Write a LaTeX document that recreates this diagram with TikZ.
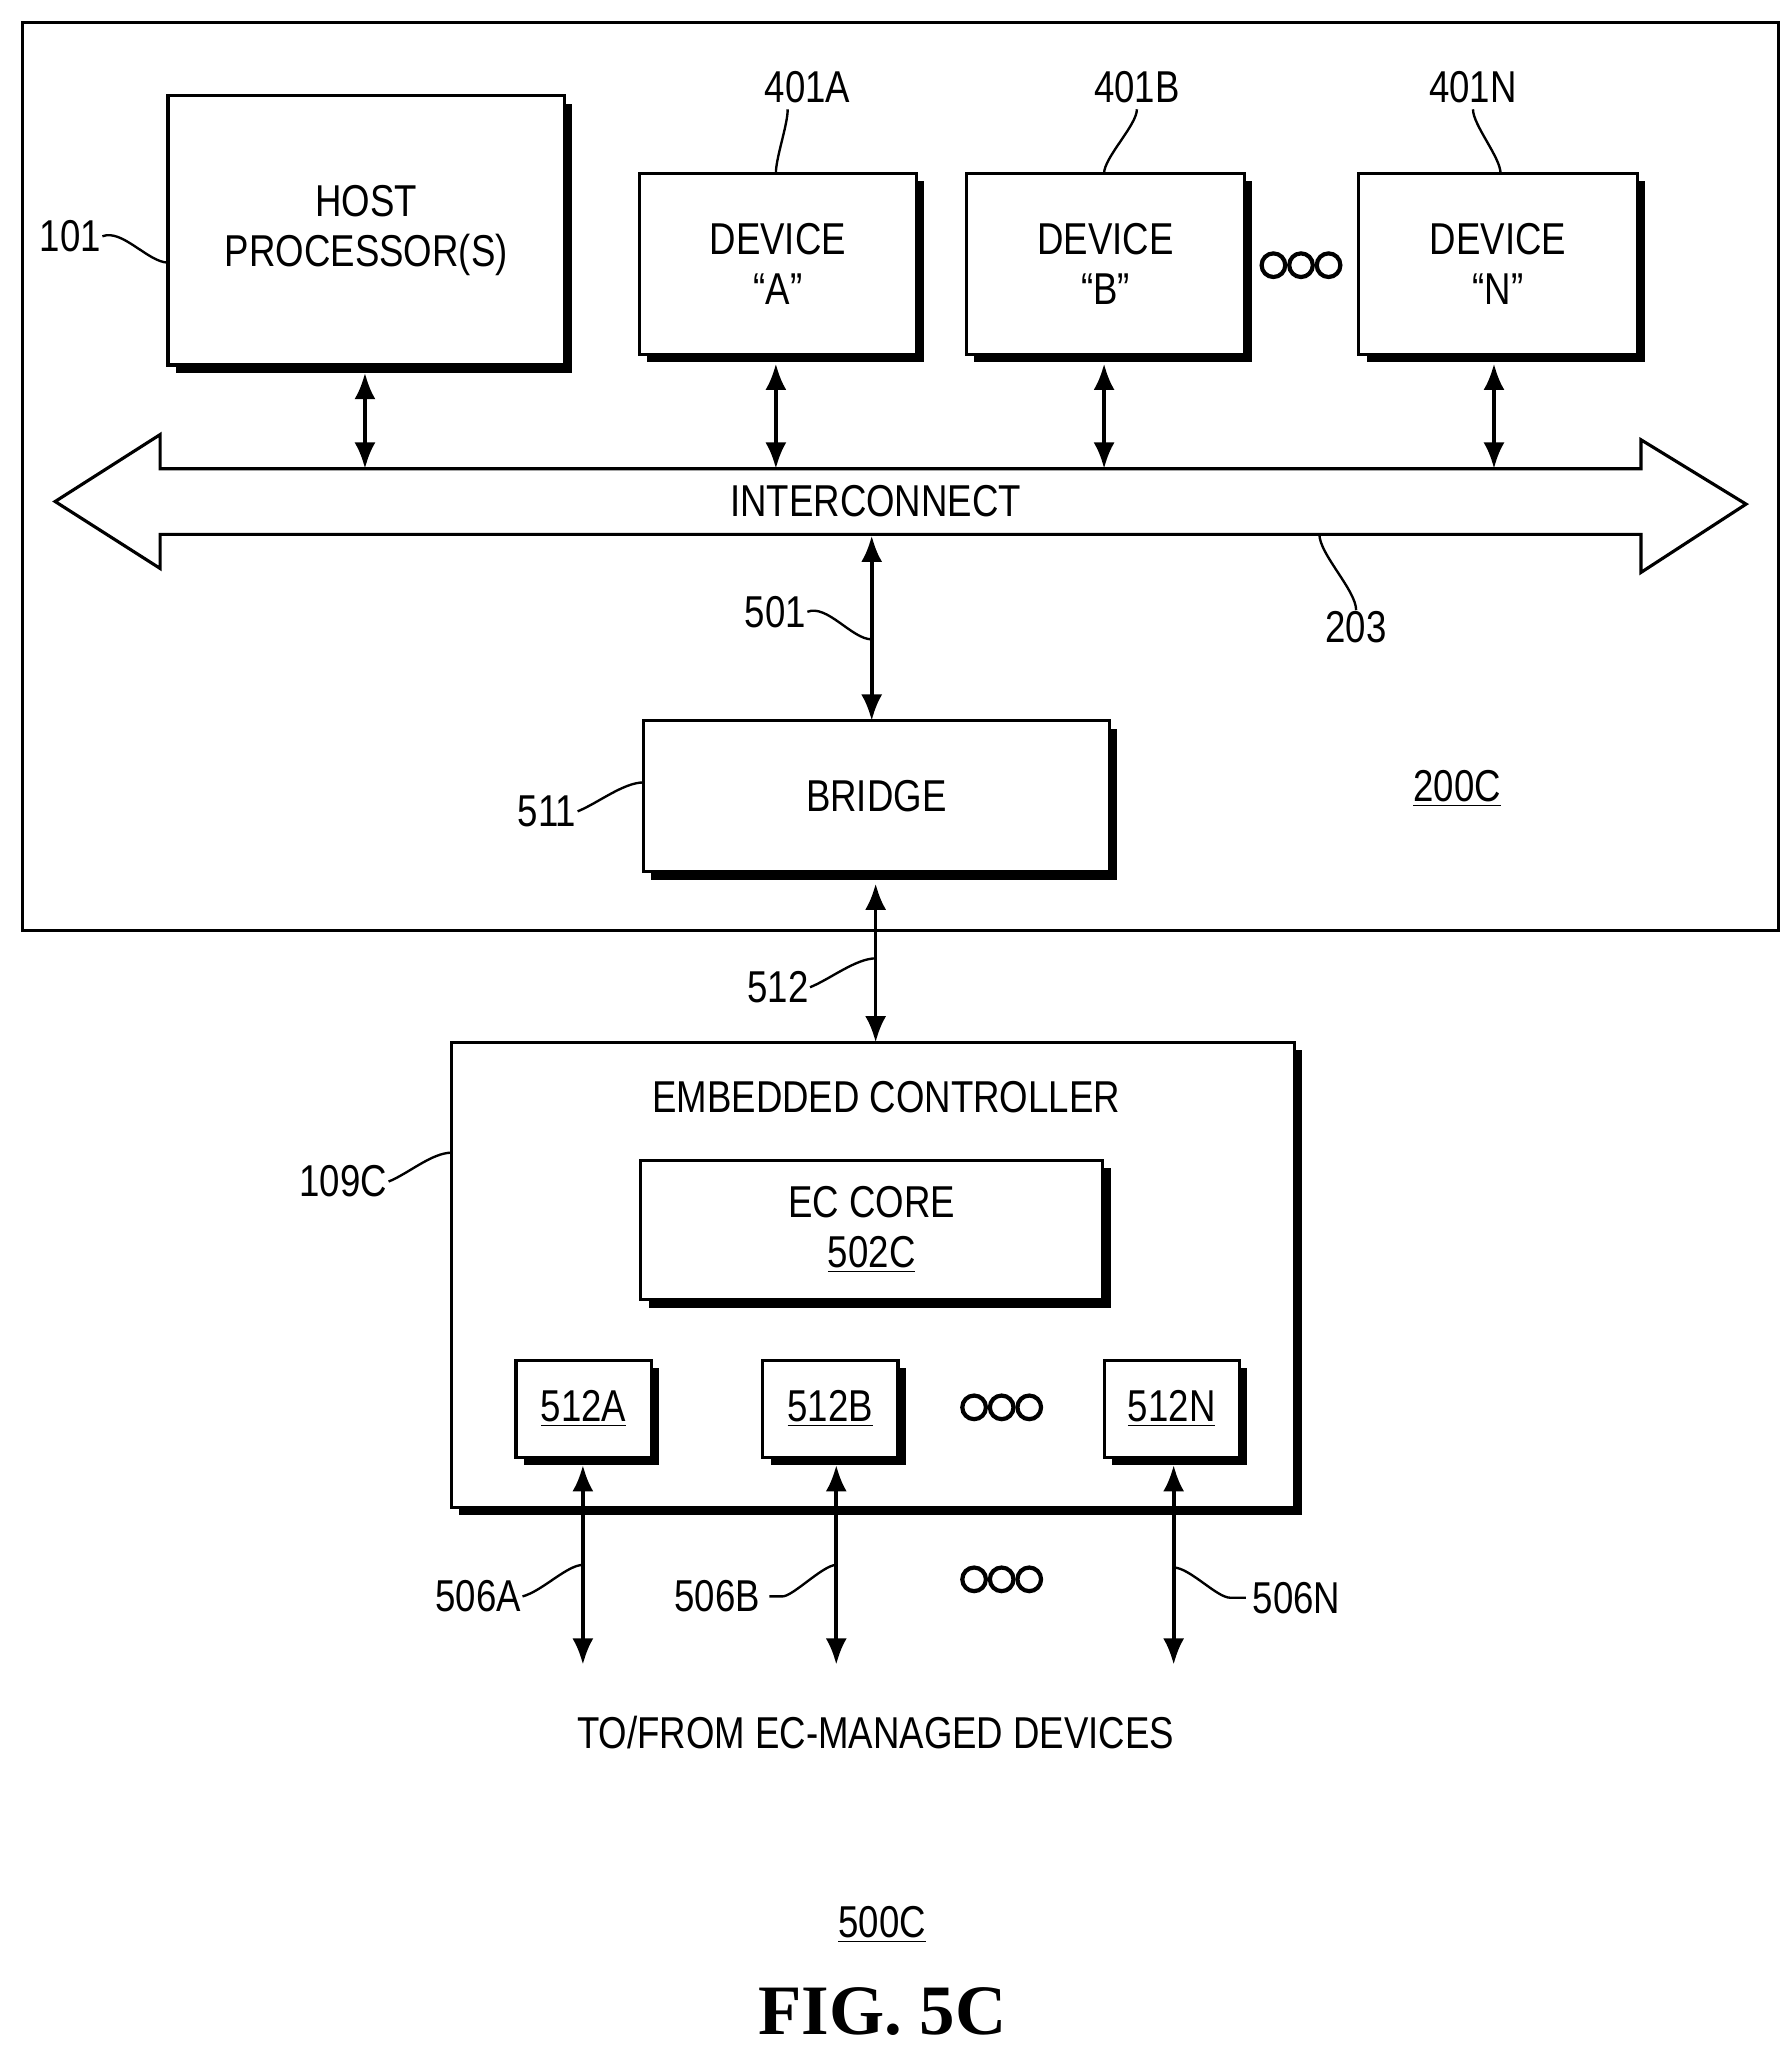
\documentclass[tikz,border=0pt]{standalone}
\usepackage{fontspec}
\setmainfont{Liberation Sans}[FakeStretch=0.82]
\newfontfamily\figfont{Liberation Serif}
\usetikzlibrary{arrows.meta}
\begin{document}
\begin{tikzpicture}[x=0.5pt,y=-0.5pt,line width=1.2pt,
  txt/.style={font=\fontsize{17}{19}\selectfont,align=center,inner sep=0},
  dots/.style={circle,draw,line width=1.6pt,minimum size=9pt,inner sep=0},
  dbl/.style={{Latex[length=10pt,width=8pt]}-{Latex[length=10pt,width=8pt]},line width=1.4pt},
  lead/.style={line width=0.9pt}]
\useasboundingbox (0,0) rectangle (1365,1560);
\newcommand{\blk}[5]{% name, x1,y1,x2,y2
  \fill (#2+6,#3+6) rectangle (#4+6,#5+6);
  \draw[fill=white] (#2,#3) rectangle (#4,#5);
  \coordinate (#1) at ({(#2+#4)/2},{(#3+#5)/2});}
\newcommand{\threedots}[2]{%
  \node[dots] at (#1-21,#2) {}; \node[dots] at (#1,#2) {}; \node[dots] at (#1+21,#2) {};}
% outer
\draw (17,17) rectangle (1355,709);
\blk{host}{128}{73}{430}{278}
\node[txt] (hostt) at (host) {HOST\\PROCESSOR(S)};
\blk{da}{487}{132}{698}{270}
\node[txt] (dat) at (da) {DEVICE\\``A''};
\blk{db}{736}{132}{948}{270}
\node[txt] (dbt) at (db) {DEVICE\\``B''};
\blk{dn}{1035}{132}{1247}{270}
\node[txt] (dnt) at (dn) {DEVICE\\``N''};
\threedots{991}{202}
% interconnect
\draw[fill=white] (42,382) -- (122,331) -- (122,357) -- (1250,357) -- (1250,335) -- (1330,384)
  -- (1250,436) -- (1250,407) -- (122,407) -- (122,433) -- cycle;
\node[txt] (ic) at (667,382) {INTERCONNECT};
\coordinate (bt1) at (278,357); \coordinate (bt2) at (591,357);
\coordinate (bt3) at (841,357); \coordinate (bt4) at (1138,357);
\draw[dbl] (278,284) -- (bt1);
\draw[dbl] (591,277) -- (bt2);
\draw[dbl] (841,277) -- (bt3);
\draw[dbl] (1138,277) -- (bt4);
% labels top
\node[txt] (l401a) at (615,66) {401A};
\node[txt] (l401b) at (866,66) {401B};
\node[txt] (l401n) at (1122,66) {401N};
\draw[lead] (l401a.south) ++(-15,4) .. controls +(0,12) and +(0,-12) .. (591,132);
\draw[lead] (l401b.south) ++(0,4) .. controls +(0,12) and +(0,-12) .. (841,132);
\draw[lead] (l401n.south) ++(0,4) .. controls +(0,12) and +(0,-12) .. (1143,132);
\node[txt,anchor=east] (l101) at (78,180) {101};
\draw[lead] (l101.east) .. controls +(15,-6) and +(-15,0) .. (128,200);
% 501
\coordinate (bridgetop) at (664,549);
\draw[dbl] (664,408) -- (bridgetop);
\node[txt,anchor=east] (l501) at (615,466) {501};
\draw[lead] (l501.east) .. controls +(15,-6) and +(-15,0) .. (664,487);
\node[txt] (l203) at (1033,478) {203};
\draw[lead] (1005,407) .. controls +(0,15) and +(0,-15) .. (l203.north);
% bridge
\blk{br}{490}{549}{845}{664}
\node[txt] (brt) at (br) {BRIDGE};
\node[txt,anchor=east] (l511) at (440,618) {511};
\draw[lead] (l511.east) .. controls +(15,-6) and +(-15,0) .. (490,596);
\node[txt] (l200c) at (1110,601) {\underline{200C}};
% 512
\draw[dbl] (667,673) -- (667,794);
\node[txt,anchor=east] (l512) at (617,752) {512};
\draw[lead] (l512.east) .. controls +(15,-6) and +(-15,0) .. (667,730);
% EC
\blk{ec}{344}{794}{986}{1148}
\node[txt] (ect) at (675,836) {EMBEDDED CONTROLLER};
\node[txt,anchor=east] (l109) at (296,900) {109C};
\draw[lead] (l109.east) .. controls +(15,-6) and +(-15,0) .. (344,878);
\blk{core}{488}{884}{840}{990}
\node[txt] (coret) at (664,937) {EC CORE\\\underline{502C}};
\blk{pa}{393}{1036}{496}{1110}
\node[txt] (pat) at (pa) {\underline{512A}};
\blk{pb}{581}{1036}{684}{1110}
\node[txt] (pbt) at (pb) {\underline{512B}};
\blk{pn}{841}{1036}{944}{1110}
\node[txt] (pnt) at (pn) {\underline{512N}};
\threedots{763}{1072}
\threedots{763}{1203}
\coordinate (ea) at (444,1268); \coordinate (eb) at (637,1268); \coordinate (en) at (894,1268);
\draw[dbl] (444,1116) -- (ea);
\draw[dbl] (637,1116) -- (eb);
\draw[dbl] (894,1116) -- (en);
\node[txt,anchor=east] (l506a) at (398,1216) {506A};
\draw[lead] (l506a.east) .. controls +(15,-4) and +(-12,0) .. (444,1192);
\node[txt,anchor=east] (l506b) at (580,1216) {506B};
\draw[lead] (l506b.east) ++(6,0) -- ++(10,0) .. controls +(8,0) and +(-10,0) .. (637,1192);
\node[txt,anchor=west] (l506n) at (953,1217) {506N};
\draw[lead] (l506n.west) ++(-4,0) -- ++(-12,0) .. controls +(-10,0) and +(12,0) .. (894,1194);
\node[txt] (tofrom) at (667,1320) {TO/FROM EC-MANAGED DEVICES};
\node[txt] (l500c) at (672,1466) {\underline{500C}};
\node[inner sep=0,font=\figfont\fontsize{27}{30}\selectfont\bfseries] (fig) at (672,1532) {FIG. 5C};
\end{tikzpicture}
\end{document}
